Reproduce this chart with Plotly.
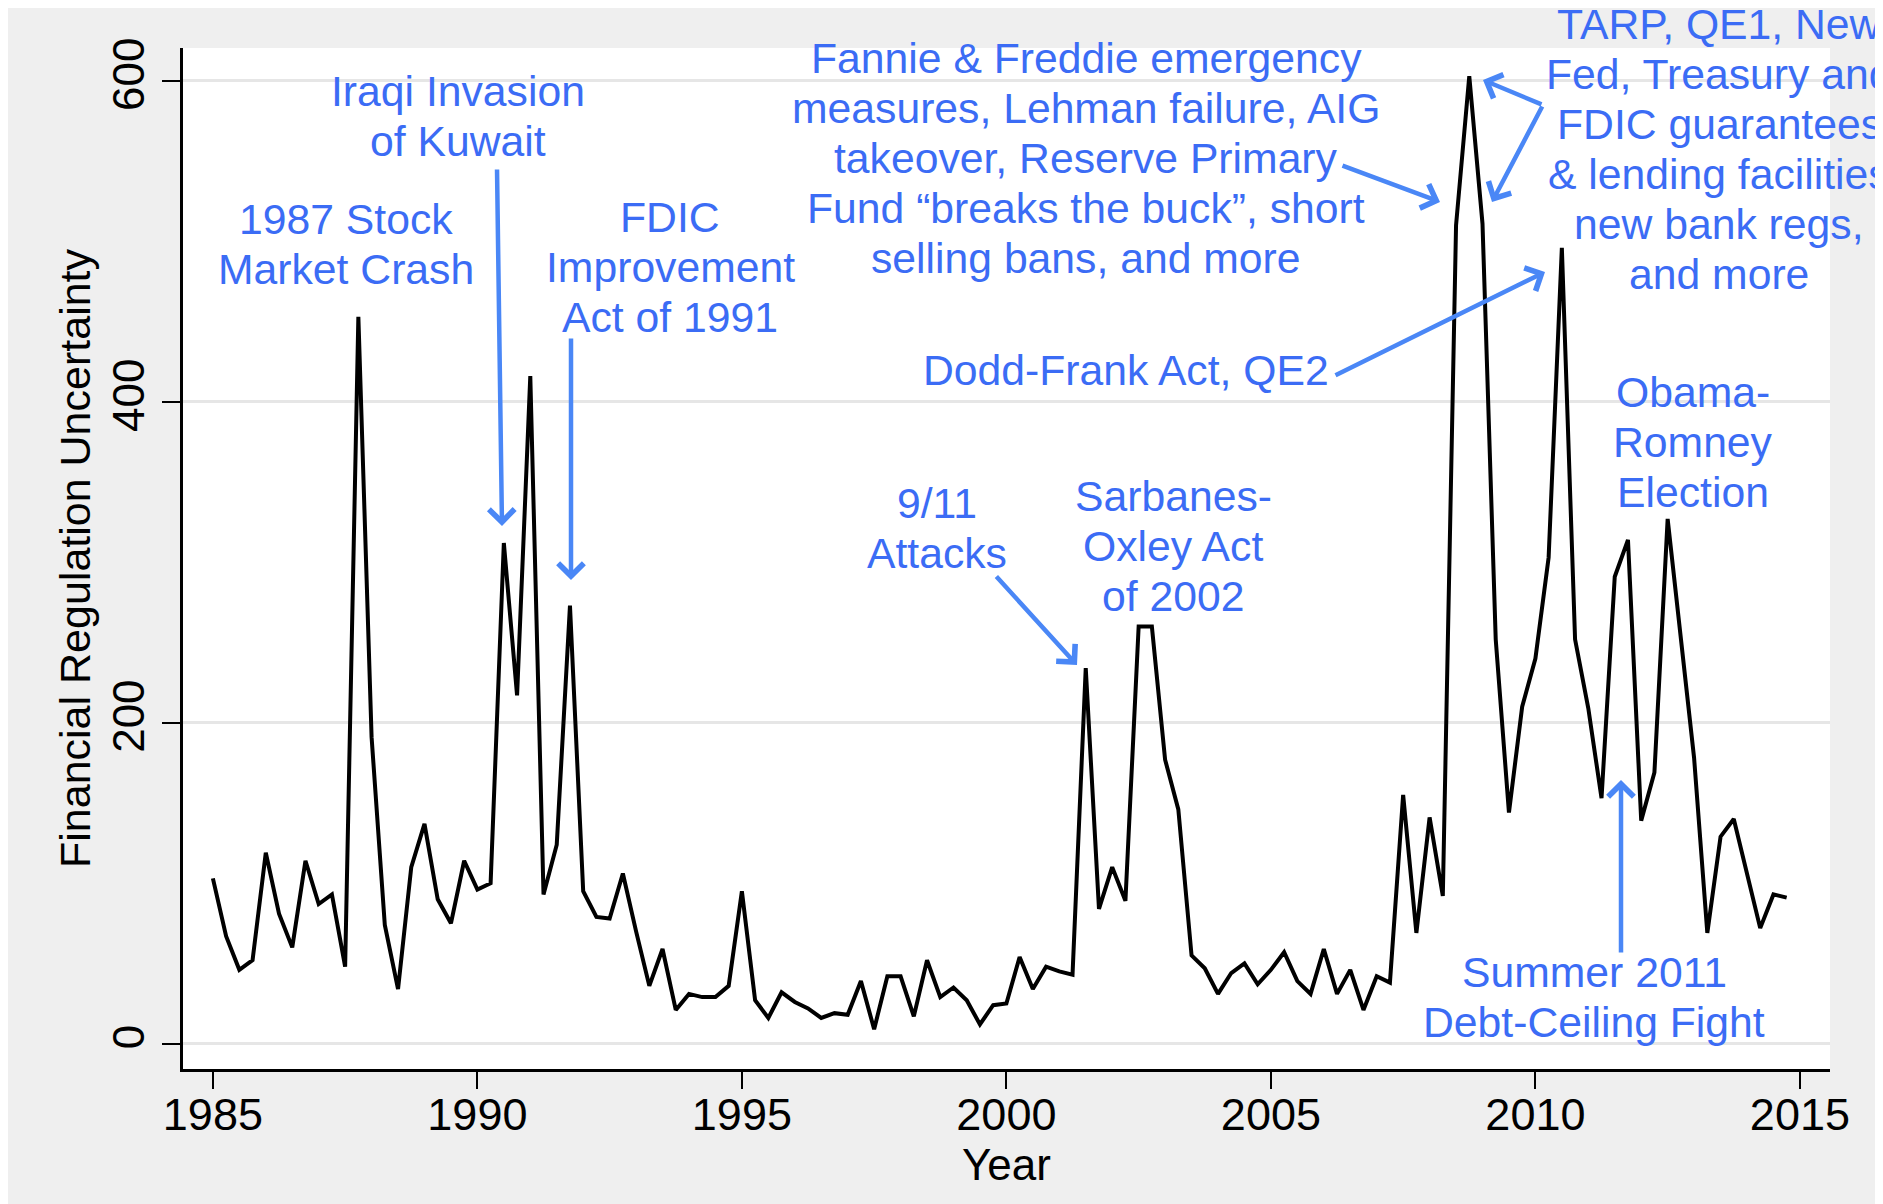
import plotly.graph_objects as go

# Financial regulation uncertainty, quarterly 1985Q1 - 2014Q4
years = list(range(1985, 2015))
quarters = [0, 0.25, 0.5, 0.75]
fru = [
    103, 67, 46, 52,      # 1985
    119, 81, 60, 114,     # 1986
    87, 93, 48, 453,      # 1987
    191, 74, 34, 110,     # 1988
    137, 90, 75, 114,     # 1989
    96, 100, 312, 217,    # 1990
    416, 93, 124, 273,    # 1991
    95, 79, 78, 106,      # 1992
    70, 36, 59, 21,       # 1993
    31, 29, 29, 36,       # 1994
    95, 27, 16, 32,       # 1995
    26, 22, 16, 19,       # 1996
    18, 39, 9, 42,        # 1997
    42, 17, 52, 29,       # 1998
    35, 27, 12, 24,       # 1999
    25, 54, 34, 48,       # 2000
    45, 43, 234, 84,      # 2001
    110, 89, 260, 260,    # 2002
    177, 146, 55, 47,     # 2003
    31, 44, 50, 37,       # 2004
    46, 57, 39, 31,       # 2005
    59, 31, 46, 21,       # 2006
    42, 38, 155, 69,      # 2007
    141, 92, 510, 603,    # 2008
    511, 252, 144, 210,   # 2009
    240, 303, 496, 252,   # 2010
    209, 153, 291, 314,   # 2011
    139, 169, 327, 255,   # 2012
    178, 69, 129, 140,    # 2013
    106, 72, 93, 91,      # 2014
]
dates = [y + q for y in years for q in quarters]

x_ticks = [1985, 1990, 1995, 2000, 2005, 2010, 2015]
y_ticks = [0, 200, 400, 600]

# event labels: (lines, centre x px, first line centre y px) - page pixels
events = [
    (["1987 Stock", "Market Crash"], 346, 219),
    (["Iraqi Invasion", "of Kuwait"], 458, 91),
    (["FDIC", "Improvement", "Act of 1991"], 670, 217),
    (["Fannie & Freddie emergency", "measures, Lehman failure, AIG",
      "takeover, Reserve Primary", "Fund \u201cbreaks the buck\u201d, short",
      "selling bans, and more"], 1086, 58),
    (["TARP, QE1, New", "Fed, Treasury and", "FDIC guarantees",
      "& lending facilities", "new bank regs,", "and more"], 1719, 24),
    (["Dodd-Frank Act, QE2"], 1126, 370),
    (["9/11", "Attacks"], 937, 503),
    (["Sarbanes-", "Oxley Act", "of 2002"], 1173, 496),
    (["Obama-", "Romney", "Election"], 1693, 392),
    (["Summer 2011", "Debt-Ceiling Fight"], 1594, 972),
]
# arrows: (tail px, tip px)
arrows = [
    ((497, 168), (502, 526)),
    ((571, 337), (571, 580)),
    ((1341, 165), (1440, 202)),
    ((1543, 105), (1483, 80)),
    ((1543, 105), (1492, 202)),
    ((1334, 376), (1545, 272)),
    ((995, 575), (1077, 665)),
    ((1621, 954), (1621, 780)),
]

PAGE_OFF = 8   # default body margin of the html page
W, H = 1875, 1196
ML, MR, MT, MB = 175, 53, 40, 135
PLOT_W = W - ML - MR
PLOT_H = H - MT - MB
X_RANGE = [1984.435, 2015.569]
Y_RANGE = [-15.8, 620.5]
LINE_GAP = 50

TEXT_BLUE = "#3b6cf5"
ARROW_BLUE = "#4a87f6"
FONT = "Liberation Sans, Arial, Helvetica, sans-serif"


def paper_x(px):
    return (px - PAGE_OFF - ML) / PLOT_W


def paper_y(py):
    return 1 - (py - PAGE_OFF - MT) / PLOT_H


fig = go.Figure()
fig.add_trace(go.Scatter(x=dates, y=fru, mode="lines",
                         line=dict(color="black", width=4),
                         hoverinfo="x+y", showlegend=False))

for lines, cx, cy in events:
    for i, txt in enumerate(lines):
        fig.add_annotation(x=paper_x(cx), y=paper_y(cy + i * LINE_GAP),
                           xref="paper", yref="paper", text=txt,
                           showarrow=False, xanchor="center", yanchor="middle",
                           font=dict(family=FONT, size=42.7, color=TEXT_BLUE))

for (tx, ty), (hx, hy) in arrows:
    fig.add_annotation(x=paper_x(hx), y=paper_y(hy), xref="paper", yref="paper",
                       ax=tx - hx, ay=ty - hy, text="", showarrow=True,
                       arrowhead=4, arrowsize=1.1, arrowwidth=4.5,
                       arrowcolor=ARROW_BLUE, standoff=0, startstandoff=0)

# axis titles placed by hand
fig.add_annotation(x=paper_x(1006), y=paper_y(1164), xref="paper", yref="paper",
                   text="Year", showarrow=False, xanchor="center", yanchor="middle",
                   font=dict(family=FONT, size=44, color="black"))
fig.add_annotation(x=paper_x(75), y=paper_y(558), xref="paper", yref="paper",
                   text="Financial Regulation Uncertainty", textangle=-90,
                   showarrow=False, xanchor="center", yanchor="middle",
                   font=dict(family=FONT, size=43, color="black"))

fig.update_layout(
    width=W, height=H,
    margin=dict(l=ML, r=MR, t=MT, b=MB),
    paper_bgcolor="#efefef",
    plot_bgcolor="white",
    font=dict(family=FONT, color="black"),
)

fig.update_xaxes(
    range=X_RANGE, tickvals=x_ticks, ticks="outside", ticklen=17, tickwidth=2,
    tickcolor="black", tickfont=dict(size=45), ticklabelstandoff=-13,
    showgrid=False, zeroline=False,
    showline=True, linecolor="black", linewidth=3,
)
fig.update_yaxes(
    range=Y_RANGE, tickvals=y_ticks, ticks="outside", ticklen=18, tickwidth=2,
    tickcolor="black", tickangle=-90,
    tickfont=dict(size=44, family="Liberation Sans Narrow, Arial Narrow, Liberation Sans, sans-serif"),
    showgrid=True, gridcolor="#e6e6e6", gridwidth=2.5, zeroline=False,
    showline=True, linecolor="black", linewidth=3,
)

fig.write_html("out.html")
